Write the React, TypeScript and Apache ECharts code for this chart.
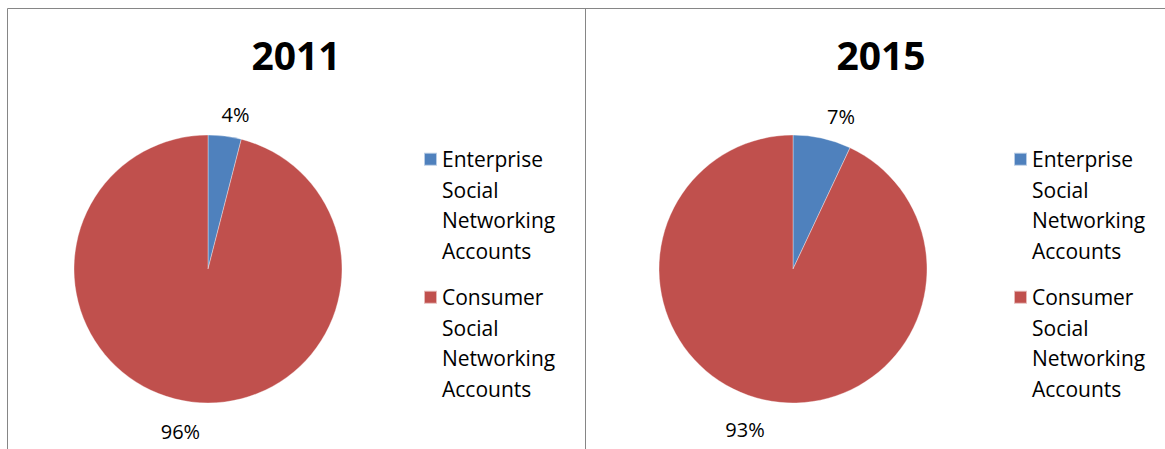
import React, { useEffect, useRef } from "react";
import * as echarts from "echarts";

const years = ["2011", "2015"];
const categories = [
  "Enterprise Social Networking Accounts",
  "Consumer Social Networking Accounts",
];
const values2011 = [4, 96];
const values2015 = [7, 93];
const colors = ["#4F81BD", "#C0504D"];

const FONT = "'Open Sans', 'DejaVu Sans', sans-serif";
const PIE_R = 134;
const CENTERS: [number, number][] = [
  [208, 269],
  [793, 269],
];
const LEGEND_LEFT = [423, 1013];

// legend icon: square at the top of a tall transparent box
const ICON =
  "path://M0,0h0.05v0.05h-0.05z M0,8.75h13v13h-13z M0,121.95h0.05v0.05h-0.05z";

function makeLabelLayout(values: number[], center: [number, number]) {
  const total = values.reduce((a, b) => a + b, 0);
  return (params: any) => {
    const i = params.dataIndex;
    let before = 0;
    for (let k = 0; k < i; k++) before += values[k];
    const mid = ((before + values[i] / 2) / total) * Math.PI * 2;
    const sx = Math.sin(mid);
    const cy = Math.cos(mid);
    return {
      x: center[0] + sx * 220,
      y: center[1] - cy * 160 + 4,
      align: "center",
      verticalAlign: "middle",
    };
  };
}

export default function App() {
  const ref = useRef<HTMLDivElement>(null);
  useEffect(() => {
    if (!ref.current) return;
    const chart = echarts.init(ref.current, undefined, { renderer: "svg" });
    const seriesValues = [values2011, values2015];
    const option: any = {
      animation: false,
      backgroundColor: "#ffffff",
      color: colors,
      title: years.map((y, i) => ({
        text: y,
        left: i === 0 ? 296 : 881,
        top: 35,
        padding: 0,
        textAlign: "center",
        textStyle: {
          fontFamily: FONT,
          fontWeight: "bold",
          fontSize: 39,
          color: "#000000",
        },
      })),
      legend: years.map((_, i) => ({
        orient: "vertical",
        left: LEGEND_LEFT[i],
        top: 143,
        padding: 0,
        itemWidth: 13,
        itemHeight: 122,
        itemGap: 14,
        icon: ICON,
        selectedMode: false,
        data: categories,
        formatter: (name: string) => name.replace(/ /g, "\n"),
        textStyle: {
          fontFamily: FONT,
          fontSize: 21,
          lineHeight: 30.5,
          color: "#000000",
        },
      })),
      graphic: [
        {
          type: "line",
          shape: { x1: 7.5, y1: 8.5, x2: 1165, y2: 8.5 },
          style: { stroke: "#868686", lineWidth: 1 },
        },
        {
          type: "line",
          shape: { x1: 7.5, y1: 8.5, x2: 7.5, y2: 449 },
          style: { stroke: "#868686", lineWidth: 1 },
        },
        {
          type: "line",
          shape: { x1: 585.5, y1: 8.5, x2: 585.5, y2: 449 },
          style: { stroke: "#868686", lineWidth: 1 },
        },
      ],
      series: years.map((y, i) => ({
        type: "pie",
        name: y,
        center: CENTERS[i],
        radius: PIE_R,
        startAngle: 90,
        clockwise: true,
        silent: true,
        data: categories.map((c, k) => ({ name: c, value: seriesValues[i][k] })),
        itemStyle: { borderColor: "rgba(255,255,255,0.6)", borderWidth: 0.6 },
        label: {
          show: true,
          position: "outside",
          formatter: "{c}%",
          fontFamily: FONT,
          fontSize: 20,
          color: "#000000",
        },
        labelLine: { show: false },
        labelLayout: makeLabelLayout(seriesValues[i], CENTERS[i]),
      })),
    };
    chart.setOption(option);
    return () => chart.dispose();
  }, []);
  return (
    <div
      ref={ref}
      style={{ position: "absolute", left: 0, top: 0, width: 1165, height: 449 }}
    />
  );
}
